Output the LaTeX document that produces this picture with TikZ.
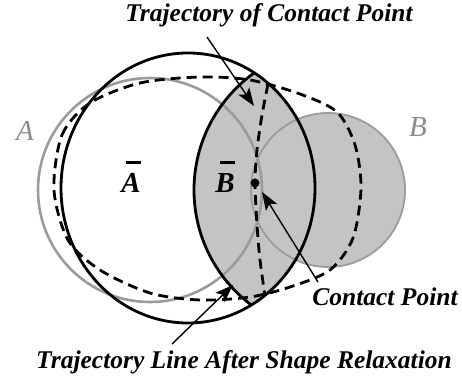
\documentclass[tikz,border=0pt]{standalone}
\usepackage{fontspec}
\setmainfont{Liberation Serif}
\usetikzlibrary{arrows.meta}
\definecolor{shadefill}{RGB}{196,196,196}
\definecolor{ghostline}{RGB}{155,155,155}
\definecolor{ghosttext}{RGB}{140,140,140}
\tikzset{
  relaxed/.style={draw=black, line width=2.8pt},
  ghost/.style={draw=ghostline, line width=2.6pt},
  trajdash/.style={draw=black, line width=2.8pt, dash pattern=on 10pt off 6pt},
  pointer/.style={draw=black, line width=1.4pt, -{Stealth[length=18pt,width=13pt,inset=4pt]}},
  caption/.style={font=\fontsize{25.5}{28}\selectfont\bfseries\itshape},
  shapelabel/.style={anchor=base, inner sep=0pt, font=\fontsize{29}{32}\selectfont\bfseries\itshape},
  ghostlabel/.style={font=\fontsize{29}{32}\selectfont\itshape, text=ghosttext},
}
% outline of the relaxed shape A-bar
\newcommand{\abarpath}{(188,188) ellipse [x radius=127, y radius=135]}
% letter with a short bar above it
\newcommand{\barred}[1]{\rlap{\hspace{5pt}\rule[29pt]{15pt}{2.5pt}}#1}

\begin{document}
\begin{tikzpicture}[x=1pt, y=-1pt]
  \useasboundingbox (0,0) rectangle (462,379);

  % original shapes A and B
  \coordinate (ca) at (150,190);
  \coordinate (cb) at (328,190);
  \coordinate (cbbar) at (338,190);
  \fill[shadefill] (cb) circle (77);

  % overlap of A-bar and B-bar
  \begin{scope}
    \clip \abarpath;
    \fill[shadefill] (cbbar) circle (144);
  \end{scope}

  \path[ghost] (ca) circle (112);
  \path[ghost, line width=1.8pt] (cb) circle (77);

  \begin{scope}
    \clip \abarpath;
    \path[relaxed] (cbbar) circle (144);
  \end{scope}
  \path[relaxed] \abarpath;

  % trajectories
  \path[trajdash] plot[smooth cycle] coordinates {(54,190) (62,135) (90,103) (140,83) (200,77) (250,80) (300,94) (337,112) (355,145) (361,188) (353,238) (330,270) (290,287) (250,297) (200,300) (150,293) (100,270) (68,240)};
  \path[trajdash] plot[smooth] coordinates {(268,84) (262,115) (257,150) (255,183) (257,225) (260,260) (265,296)};

  \coordinate (cp) at (255,183);
  \fill (cp) circle (4.5);

  % labels
  \node[ghostlabel] (la) at (25,131) {A};
  \node[ghostlabel] (lb) at (418,127) {B};
  \node[shapelabel] (labar) at (131,193) {\barred{A}};
  \node[shapelabel] (lbbar) at (225,193) {\barred{B}};

  \node[caption] (ttraj) at (269,15) {Trajectory of Contact Point};
  \node[caption] (tcont) at (385,297) {Contact Point};
  \node[caption] (trelax) at (244,362) {Trajectory Line After Shape Relaxation};

  \coordinate (trajtail) at (207,37);
  \coordinate (trajhead) at (254,106);
  \coordinate (conttail) at (318,282);
  \coordinate (conthead) at (262,192);
  \coordinate (relaxtail) at (172,344);
  \coordinate (relaxhead) at (233,285);
  \draw[pointer] (trajtail) -- (trajhead);
  \draw[pointer] (conttail) -- (conthead);
  \draw[pointer] (relaxtail) -- (relaxhead);
\end{tikzpicture}
\end{document}
